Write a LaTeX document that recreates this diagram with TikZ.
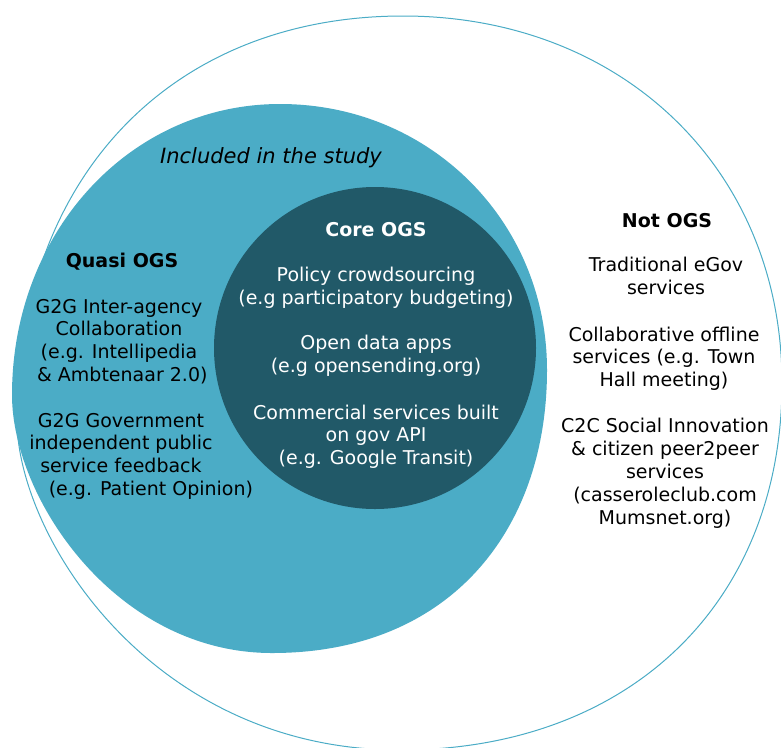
\documentclass[tikz,border=0pt]{standalone}
\usepackage{fontspec}
\setmainfont{DejaVu Sans}
\usepackage{tikz}
\tikzset{every picture/.style={line width=0.75pt}}
\definecolor{ogsTeal}{RGB}{75,172,198}
\definecolor{ogsDark}{RGB}{33,89,104}
\tikzset{
  body/.style={align=center, inner sep=0pt, anchor=base, font=\fontsize{14.25}{17.2}\selectfont},
  head/.style={body, font=\fontsize{14.25}{17.2}\selectfont\bfseries},
  incore/.style={text=white},
}

\begin{document}
\begin{tikzpicture}[x=0.75pt,y=0.75pt,yscale=-1,xscale=1]

\useasboundingbox (0,0) rectangle (781,747);

%Shape: Ellipse (outer, not OGS)
\draw [color=ogsTeal, fill=white] (403,16) .. controls (622.8,16) and (782,170.1) .. (782,383) .. controls (782,603.2) and (629.2,750) .. (400,750) .. controls (151.1,750) and (17,535.5) .. (17,420) .. controls (17,177.6) and (171.4,16) .. (403,16) -- cycle ;
%Shape: Ellipse (quasi OGS)
\draw [draw=none, fill=ogsTeal] (280,104) .. controls (429.5,104) and (547,221) .. (547,370) .. controls (547,530) and (450,653) .. (272,653) .. controls (116,653) and (12,498.2) .. (12,395) .. controls (12,232) and (130,104) .. (280,104) -- cycle ;
%Shape: Ellipse (core OGS)
\draw [draw=none, fill=ogsDark] (375,348) ellipse (161 and 161) ;

% Text Node (base = last line)
\draw (271,163) node [body, font=\fontsize{15.75}{18}\selectfont\itshape] (study) {Included in the study};
% Text Node
\draw (122,267) node [head] (quasi) {Quasi OGS};
% Text Node
\draw (119,381.8) node [body] (quasiA) {G2G Inter-agency\\Collaboration\\(e.g. Intellipedia\\\hspace*{0.35em}\& Ambtenaar 2.0)};
% Text Node
\draw (121,495.8) node [body] (quasiB) {G2G Government\\independent public\\service feedback\\\hspace*{3.15em}(e.g. Patient Opinion)};
% Text Node
\draw (376,236) node [head, incore] (core) {Core OGS};
% Text Node
\draw (376,304.9) node [body, incore] (coreA) {Policy crowdsourcing\\(e.g participatory budgeting)};
% Text Node
\draw (376,372.9) node [body, incore] (coreB) {Open data apps\\(e.g opensending.org)};
% Text Node
\draw (376,464.9) node [body, incore] (coreC) {Commercial services built\\on gov API\\(e.g. Google Transit)};
% Text Node
\draw (667,227) node [head] (notogs) {Not OGS};
% Text Node
\draw (666,294.9) node [body] (notA) {Traditional eGov\\services};
% Text Node
\draw (664,386.9) node [body] (notB) {Collaborative offline\\services (e.g. Town\\Hall meeting)};
% Text Node
\draw (665,524.7) node [body] (notC) {C2C Social Innovation\\\& citizen peer2peer\\services\\(casseroleclub.com\\Mumsnet.org)};
\end{tikzpicture}
\end{document}
